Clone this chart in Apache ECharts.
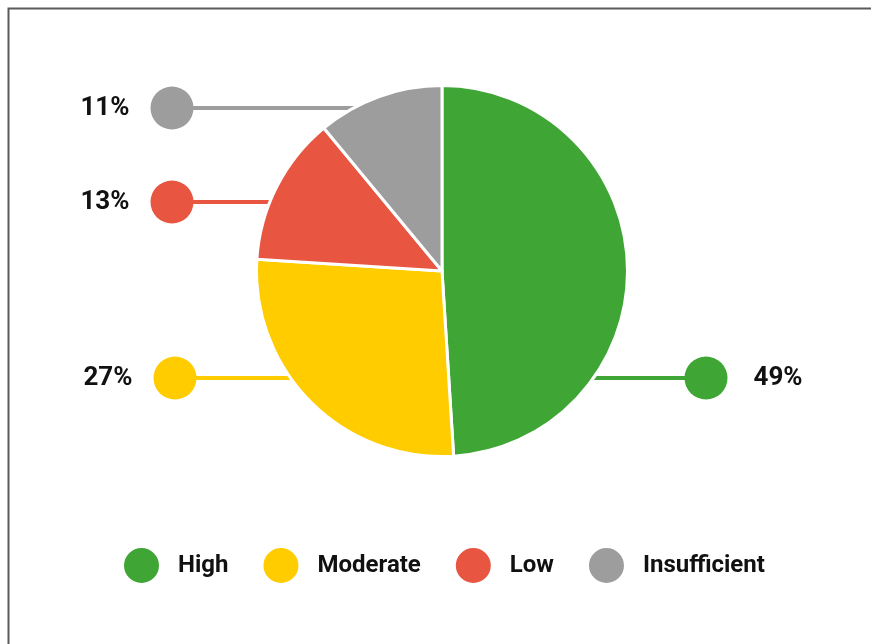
<!DOCTYPE html>
<html><head><meta charset="utf-8">
<script src="https://cdn.jsdelivr.net/npm/echarts@6/dist/echarts.min.js"></script>
<style>html,body{margin:0;padding:0;background:#fff}#c{width:871px;height:644px}</style>
</head><body><div id="c"></div>
<script>
// ---- data ----
const categories = ['High', 'Moderate', 'Low', 'Insufficient'];
const values = [49, 27, 13, 11];
const labelTexts = ['49%', '27%', '13%', '11%'];

// ---- styling / layout ----
const colors = ['#3FA535', '#FFCC00', '#E85642', '#9D9D9D'];
const CX = 442, CY = 271, R = 184;
const rowLayout = [ // side, dot centre x, row y
  ['right', 706, 378],
  ['left', 175, 378],
  ['left', 172, 202],
  ['left', 172, 108]
];
const DOT = 43;
const FONT = 'Roboto, "Noto Sans", sans-serif';

const chart = echarts.init(document.getElementById('c'), null, {renderer: 'canvas'});

const data = categories.map((name, i) => {
  const side = rowLayout[i][0];
  const txt = labelTexts[i];
  return {
    name: name,
    value: values[i],
    itemStyle: {color: colors[i]},
    label: {
      formatter: side === 'right' ? '{d|}{g|}{v|' + txt + '}' : '{v|' + txt + '}{g|}{d|}',
      rich: {
        v: {fontSize: 26, fontWeight: 'bold', color: '#111', fontFamily: FONT, lineHeight: DOT},
        g: {width: side === 'right' ? 26 : 21, height: DOT},
        d: {width: DOT, height: DOT, borderRadius: DOT / 2, backgroundColor: colors[i]}
      }
    }
  };
});

const option = {
  animation: false,
  backgroundColor: '#fff',
  graphic: [{
    type: 'polyline',
    shape: {points: [[8.5, 644], [8.5, 8.5], [871, 8.5]]},
    style: {stroke: '#5a5a5a', lineWidth: 2, fill: null}
  }],
  legend: {
    data: categories,
    left: 122,
    top: 546,
    padding: 0,
    icon: 'circle',
    itemWidth: 37,
    itemHeight: 37,
    itemGap: 33,
    textStyle: {fontSize: 24, fontWeight: 'bold', color: '#111', fontFamily: FONT, padding: [0, 0, 0, 13]}
  },
  series: [{
    type: 'pie',
    center: [CX, CY],
    radius: R + 1.5,
    startAngle: 90,
    clockwise: true,
    silent: true,
    itemStyle: {borderColor: '#fff', borderWidth: 3},
    label: {show: true, position: 'outside'},
    labelLine: {show: true, lineStyle: {width: 4}},
    labelLayout: function (p) {
      const [side, dx, y] = rowLayout[p.dataIndex];
      const e = Math.sqrt(Math.max(0, R * R - (y - CY) * (y - CY)));
      const ex = side === 'right' ? CX + e : CX - e;
      return {
        x: side === 'right' ? dx - DOT / 2 : dx + DOT / 2,
        y: y,
        align: side === 'right' ? 'left' : 'right',
        verticalAlign: 'middle',
        labelLinePoints: [[ex, y], [(ex + dx) / 2, y], [dx, y]]
      };
    },
    data: data
  }]
};
chart.setOption(option);
</script>
</body></html>
